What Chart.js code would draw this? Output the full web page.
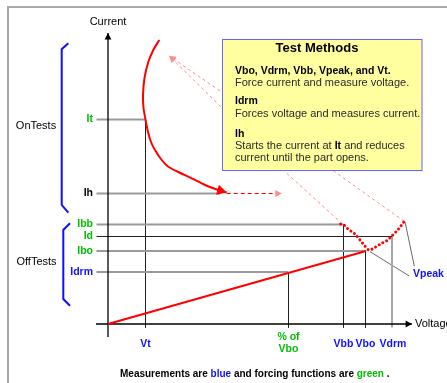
<!DOCTYPE html>
<html>
<head>
<meta charset="utf-8">
<script src="https://cdn.jsdelivr.net/npm/chart.js@4.4.1/dist/chart.umd.min.js"></script>
<style>
  html, body { margin: 0; padding: 0; background: #fff; overflow: hidden; }
</style>
</head>
<body>
<canvas id="myChart" width="447" height="383"></canvas>
<script>
// values: x = voltage, y = current, origin where the axes cross
const voltLabels = ['Vt', 'Vbb', 'Vbo', 'Vdrm'];
const voltValues = [37.5, 235.5, 257.5, 284];
const pctVboValue = 180.5;
const currLabels = ['It', 'Ih', 'Ibb', 'Id', 'Ibo', 'Idrm'];
const currValues = [204.5, 130.5, 99.5, 87.5, 73, 52];

// on-state curve, top end down to the holding current
const onCurveV = [51.3, 45.3, 40.3, 36.5, 35, 35.5, 37.5, 40, 43, 47, 53.7, 60.3, 70.3, 83.7, 97, 110.3, 118.7];
const onCurveI = [284, 274, 262, 246, 229, 216, 204.5, 192, 182, 174, 164, 157.3, 152, 145.7, 139, 134, 131.5];
const ihEndV = 112;        // where the Ih line stops
const ihDashEndV = 173.7;  // dashed continuation

// off-state line up to breakover
const offLineV = [0, 258];
const offLineI = [0, 73];

// dotted breakover path  Vbb -> Vbo -> Vpeak
const breakV = [232.7, 236, 239.3, 243.7, 247, 252, 257, 261, 267, 273.7, 278.7, 283.7, 290.3, 296];
const breakI = [100, 99, 95.7, 92.3, 90, 84, 78, 74, 76.7, 80.7, 83.3, 88, 94.7, 102.3];

// pointer lines from the text box
const pinkLines = [
  [[112, 233], [61.3, 268]],
  [[112.7, 217.3], [61.3, 268]],
  [[178.7, 150.7], [232, 102.3]],
  [[225.3, 153.3], [295.3, 103.3]]
];
const vpeakLeaders = [
  [[262, 72.3], [301.3, 48]],
  [[297, 102.3], [306.3, 58]]
];

// brackets on the left
const onBraceV = [-39.7, -46.3, -46.3, -39.7];
const onBraceI = [280.7, 274.7, 119, 111.3];
const offBraceV = [-38, -44.7, -44.7, -38];
const offBraceI = [100.7, 94, 25, 18.3];

const RED = '#ff0000';
const PINK = '#ff8c8c';
const GREY = '#9a9a9a';
const DARK = '#222';
const GREEN = '#00c000';
const BLUE = '#1010ff';
const currColors = [GREEN, '#000', GREEN, GREEN, GREEN, BLUE];
const FONT = "'Liberation Sans', Arial, sans-serif";

const pts = (xs, ys) => xs.map((x, i) => ({ x: x, y: ys[i] }));
const pair = p => [{ x: p[0][0], y: p[0][1] }, { x: p[1][0], y: p[1][1] }];

function line(data, color, width, extra) {
  return Object.assign({
    data: data,
    showLine: true,
    borderColor: color,
    backgroundColor: color,
    borderWidth: width,
    pointRadius: 0,
    tension: 0,
    order: 5
  }, extra || {});
}

const It = currValues[0], Ih = currValues[1], Ibb = currValues[2], Id = currValues[3], Ibo = currValues[4], Idrm = currValues[5];
const Vt = voltValues[0], Vbb = voltValues[1], Vbo = voltValues[2], Vdrm = voltValues[3];
const tickStart = -11.5;
const vBottom = -3.5;

const datasets = [
  // red curves on top
  line(pts(onCurveV, onCurveI), RED, 2, { tension: 0.3, order: 0, arrowEnd: 6 }),
  line([{ x: onCurveV[onCurveV.length - 1], y: Ih }, { x: ihDashEndV, y: Ih }], RED, 1, { borderDash: [4, 3], order: 0, arrowEnd: 4, arrowColor: PINK }),
  line(pts(offLineV, offLineI), RED, 2, { order: 0 }),
  line(pts(breakV, breakI), RED, 3, { borderDash: [0.01, 4.2], borderCapStyle: 'round', tension: 0.3, order: 0 }),

  // axes
  line([{ x: 0, y: -13 }, { x: 0, y: 291 }], '#000', 1.3, { arrowEnd: 4, order: 1 }),
  line([{ x: -12, y: 0 }, { x: 304, y: 0 }], '#000', 1.3, { arrowEnd: 4, order: 1 }),

  // current level lines
  line([{ x: tickStart, y: It }, { x: Vt, y: It }], GREY, 2),
  line([{ x: tickStart, y: Ih }, { x: ihEndV, y: Ih }], GREY, 2),
  line([{ x: tickStart, y: Ibb }, { x: Vbb, y: Ibb }], GREY, 2),
  line([{ x: tickStart, y: Id }, { x: Vdrm, y: Id }], DARK, 1),
  line([{ x: tickStart, y: Ibo }, { x: Vbo, y: Ibo }], GREY, 2),
  line([{ x: tickStart, y: Idrm }, { x: pctVboValue, y: Idrm }], GREY, 2),

  // voltage level lines
  line([{ x: Vt, y: It }, { x: Vt, y: vBottom }], DARK, 1),
  line([{ x: pctVboValue, y: Idrm }, { x: pctVboValue, y: vBottom }], DARK, 1),
  line([{ x: Vbb, y: Ibb }, { x: Vbb, y: vBottom }], DARK, 1),
  line([{ x: Vbo, y: Ibo }, { x: Vbo, y: vBottom }], DARK, 1),
  line([{ x: Vdrm, y: Id }, { x: Vdrm, y: vBottom }], '#a8a8a8', 2),

  // braces
  line(pts(onBraceV, onBraceI), BLUE, 2),
  line(pts(offBraceV, offBraceI), BLUE, 2)
];
pinkLines.forEach((p, i) => datasets.push(line(pair(p), PINK, 1, { borderDash: [3, 3], arrowEnd: i < 2 ? 4 : 0, arrowColor: PINK })));
vpeakLeaders.forEach(p => datasets.push(line(pair(p), '#6a6a6a', 1)));

const arrowPlugin = {
  id: 'arrows',
  afterDatasetsDraw(chart) {
    const ctx = chart.ctx;
    chart.data.datasets.forEach((ds, i) => {
      if (!ds.arrowEnd) return;
      const pts = chart.getDatasetMeta(i).data;
      const a = pts[pts.length - 2], b = pts[pts.length - 1];
      const ang = Math.atan2(b.y - a.y, b.x - a.x);
      const L = ds.arrowEnd * 1.6, W = ds.arrowEnd * 0.85;
      ctx.save();
      ctx.translate(b.x, b.y);
      ctx.rotate(ang);
      ctx.beginPath();
      ctx.moveTo(0, 0);
      ctx.lineTo(-L, -W);
      ctx.lineTo(-L, W);
      ctx.closePath();
      ctx.fillStyle = ds.arrowColor || ds.borderColor;
      ctx.fill();
      ctx.restore();
    });
  }
};

function drawText(ctx, s, x, y, font, color, align) {
  ctx.font = font;
  ctx.fillStyle = color;
  ctx.textAlign = align || 'left';
  ctx.textBaseline = 'middle';
  ctx.fillText(s, x, y);
}

// draws pieces of text one after another on one line
function drawRuns(ctx, runs, x, y) {
  ctx.textAlign = 'left';
  ctx.textBaseline = 'middle';
  runs.forEach(r => {
    ctx.font = r[1];
    ctx.fillStyle = r[2];
    ctx.fillText(r[0], x, y);
    x += ctx.measureText(r[0]).width;
  });
}

const labelPlugin = {
  id: 'labels',
  beforeDraw(chart) {
    const ctx = chart.ctx;
    ctx.save();
    ctx.fillStyle = '#fff';
    ctx.fillRect(0, 0, chart.width, chart.height);
    ctx.fillStyle = '#a8a8a8';
    ctx.fillRect(7, 6, chart.width - 7, 2);
    ctx.fillRect(7, 6, 2, chart.height - 6);
    ctx.restore();
  },
  afterDraw(chart) {
    const ctx = chart.ctx;
    const xs = chart.scales.x, ys = chart.scales.y;
    const px = v => xs.getPixelForValue(v);
    const py = v => ys.getPixelForValue(v);
    const bold = "bold 10.5px " + FONT;
    const reg = "11px " + FONT;
    ctx.save();

    // axis titles
    drawText(ctx, 'Current', px(0), 22, reg, '#000', 'center');
    drawText(ctx, 'Voltage', px(307), py(0), reg, '#000', 'left');

    // current labels
    currLabels.forEach((l, i) => drawText(ctx, l, px(-15), py(currValues[i]), bold, currColors[i], 'right'));
    // voltage labels
    voltLabels.forEach((l, i) => drawText(ctx, l, px(voltValues[i]) + (l === 'Vdrm' ? 1 : 0), 344, bold, BLUE, 'center'));
    drawText(ctx, '% of', px(pctVboValue), 337, bold, GREEN, 'center');
    drawText(ctx, 'Vbo', px(pctVboValue), 349, bold, GREEN, 'center');
    drawText(ctx, 'Vpeak', px(305), py(50), bold, BLUE, 'left');

    // group names
    drawText(ctx, 'OnTests', 36, py(198), reg, '#000', 'center');
    drawText(ctx, 'OffTests', 36.5, py(62), reg, '#000', 'center');

    // text box
    const bx = 222.5, by = 39.5, bw = 199.5, bh = 131;
    ctx.fillStyle = '#ffffa0';
    ctx.fillRect(bx, by, bw, bh);
    ctx.strokeStyle = '#6464ff';
    ctx.lineWidth = 1;
    ctx.strokeRect(bx, by, bw, bh);
    drawText(ctx, 'Test Methods', 317, 48.5, "bold 13px " + FONT, '#000', 'center');
    const body = '#2a2a2a';
    const lx = 235;
    drawText(ctx, 'Vbo, Vdrm, Vbb, Vpeak, and Vt.', lx, 71, bold, '#000');
    drawText(ctx, 'Force current and measure voltage.', lx, 83, reg, body);
    drawText(ctx, 'Idrm', lx, 101.5, bold, '#000');
    drawText(ctx, 'Forces voltage and measures current.', lx, 114, reg, body);
    drawText(ctx, 'Ih', lx, 134, bold, '#000');
    drawRuns(ctx, [['Starts the current at ', reg, body], ['It', bold, '#000'], [' and reduces', reg, body]], lx, 146);
    drawText(ctx, 'current until the part opens.', lx, 158, reg, body);

    // caption
    const cb = "bold 10px " + FONT;
    drawRuns(ctx, [
      ['Measurements are ', cb, '#000'],
      ['blue', cb, BLUE],
      [' and forcing functions are ', cb, '#000'],
      ['green', cb, GREEN],
      [' .', cb, '#000']
    ], 120, 374);
    ctx.restore();
  }
};

new Chart(document.getElementById('myChart').getContext('2d'), {
  type: 'scatter',
  data: { datasets: datasets },
  options: {
    responsive: false,
    animation: false,
    layout: { padding: 0 },
    plugins: { legend: { display: false }, tooltip: { enabled: false } },
    scales: {
      x: { type: 'linear', min: -108, max: 339, display: false },
      y: { type: 'linear', min: -59, max: 324, display: false }
    }
  },
  plugins: [arrowPlugin, labelPlugin]
});
</script>
</body>
</html>
